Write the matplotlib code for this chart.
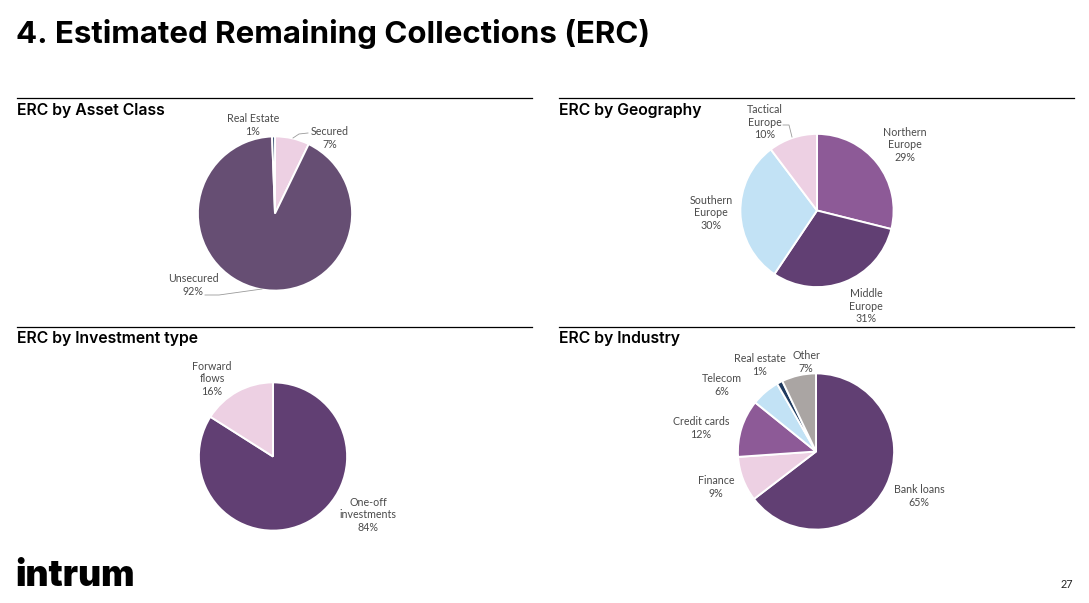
import matplotlib
matplotlib.use("Agg")
import matplotlib.pyplot as plt

W, H = 1089, 603
DARK, PLUM, PINK, BLUE, NAVY, GREY = "#613F73", "#8D5A97", "#EDD0E3", "#C2E2F5", "#1F3A5F", "#AAA5A3"

asset_labels = ["Secured\n7%", "Unsecured\n92%", "Real Estate\n1%"]
asset_values = [7.2, 92.2, 0.6]
geo_labels = ["Northern\nEurope\n29%", "Middle\nEurope\n31%", "Southern\nEurope\n30%", "Tactical\nEurope\n10%"]
geo_values = [28.9, 30.5, 30.3, 10.3]
inv_labels = ["One-off\ninvestments\n84%", "Forward\nflows\n16%"]
inv_values = [84, 16]
ind_labels = ["Bank loans\n65%", "Finance\n9%", "Credit cards\n12%", "Telecom\n6%", "Real estate\n1%", "Other\n7%"]
ind_values = [64.6, 9.3, 11.9, 5.9, 1.2, 7.1]

panels = [
    dict(title="ERC by Asset Class", tx=17, ty=110, rule=(17, 532, 98), c=(275, 213.5), r=77.5,
         values=asset_values, labels=asset_labels, colors=[PINK, "#664E73", NAVY],
         pos=[(330, 138), (193, 285), (253, 125)]),
    dict(title="ERC by Geography", tx=559, ty=110, rule=(559, 1074, 98), c=(817, 210.5), r=77,
         values=geo_values, labels=geo_labels, colors=[PLUM, DARK, BLUE, PINK],
         pos=[(905, 145), (866, 306), (711, 213), (765, 122)]),
    dict(title="ERC by Investment type", tx=17, ty=339, rule=(17, 532, 327), c=(273, 456.5), r=74.5,
         values=inv_values, labels=inv_labels, colors=[DARK, PINK],
         pos=[(368, 515), (212, 379)]),
    dict(title="ERC by Industry", tx=559, ty=339, rule=(559, 1074, 327), c=(816, 451.5), r=78.5,
         values=ind_values, labels=ind_labels, colors=[DARK, PINK, PLUM, BLUE, NAVY, GREY],
         pos=[(919, 496), (716, 487), (701, 428), (722, 385), (760, 365), (806, 362)]),
]
leaders = [
    [(205, 295), (219, 295), (262, 289)],
    [(293, 138), (299, 134), (308, 133)],
    [(783, 125), (789, 125), (792, 137)],
]

plt.rcParams["font.family"] = ["Lato", "DejaVu Sans"]
fig = plt.figure(figsize=(W / 100, H / 100), dpi=100, facecolor="white")
page = fig.add_axes([0, 0, 1, 1], zorder=3)
page.set_xlim(0, W)
page.set_ylim(H, 0)
page.axis("off")

page.text(16, 34, "4. Estimated Remaining Collections (ERC)", fontsize=22.5, fontweight="bold",
          family="Inter", color="black", va="center", ha="left")

for p in panels:
    cx, cy = p["c"]
    r = p["r"]
    ax = fig.add_axes([(cx - r) / W, 1 - (cy + r) / H, 2 * r / W, 2 * r / H])
    ax.pie(p["values"], colors=p["colors"], startangle=90, counterclock=False, radius=1,
           wedgeprops=dict(edgecolor="white", linewidth=1.4))
    ax.set_xlim(-1.005, 1.005)
    ax.set_ylim(-1.005, 1.005)
    x0, x1, y = p["rule"]
    page.plot([x0, x1], [y, y], color="black", lw=0.9)
    page.text(p["tx"], p["ty"], p["title"], fontsize=11.35, fontweight="semibold", family="Inter",
              color="black", va="center", ha="left")
    for (x, y), s in zip(p["pos"], p["labels"]):
        page.text(x, y, s, fontsize=7.7, color="#4A4A4A", ha="center", va="center", linespacing=1.15)

for pts in leaders:
    page.plot([q[0] for q in pts], [q[1] for q in pts], color="#9A9A9A", lw=0.6)

page.text(15, 577, "intrum", fontsize=25.5, fontweight="black", family="Inter", color="black",
          va="center", ha="left")
page.text(1073, 585, "27", fontsize=7.8, color="#222222", va="center", ha="right")

fig.savefig("out.png", dpi=100)
